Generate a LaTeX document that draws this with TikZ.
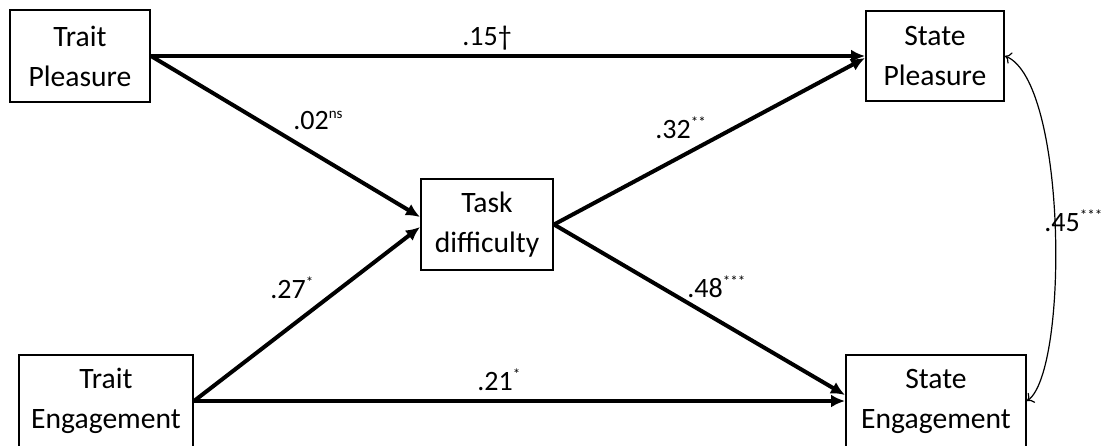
\documentclass[tikz,border=0pt]{standalone}
\usepackage{fontspec}
\setmainfont{Carlito}
\usetikzlibrary{arrows.meta,positioning}

\newcommand{\sigmark}[1]{\raisebox{0.8ex}{\fontsize{7.5}{7.5}\selectfont #1}}

\begin{document}
\begin{tikzpicture}[
        x=0.5pt, y=-0.5pt,
        every node/.style={font=\fontsize{14.8}{20}\selectfont},
        box/.style={draw, line width=1pt, rectangle, align=center, minimum width=70pt, minimum height=46pt, inner sep=2pt},
        arrow/.style={-{Latex[length=7pt,width=6.5pt]}, line width=2pt},
        corr/.style={{To[length=3pt,width=6pt]}-{To[length=3pt,width=6pt]}, line width=0.6pt},
        coef/.style={inner sep=0pt, anchor=base west, font=\fontsize{14}{16}\selectfont}
    ]
        \useasboundingbox (0,0) rectangle (1102,445);

        % Trait and state boxes
        \node[box] (tp) at (80,56) {Trait\\Pleasure};
        \node[box, minimum width=69pt, minimum height=45pt] (sp) at (935,56) {State\\Pleasure};
        \node[box, minimum width=66pt, minimum height=45.5pt] (td) at (487,224.5) {Task\\difficulty};
        \node[box, minimum width=87pt] (te) at (106,401) {Trait\\Engagement};
        \node[box, minimum width=90pt] (se) at (936,401) {State\\Engagement};

        % Paths
        \draw[arrow] (tp.east) -- (sp.west);
        \draw[arrow] (tp.east) -- ([yshift=3.75pt]td.west);
        \draw[arrow] (te.east) -- ([yshift=-1.25pt]td.west);
        \draw[arrow] (td.east) -- ([yshift=-1pt]sp.west);
        \draw[arrow] (td.east) -- ([yshift=3pt]se.west);
        \draw[arrow] (te.east) -- (se.west);

        % Residual correlation
        \draw[corr] (sp.east) .. controls +(62,25) and +(42,-30) .. (se.east);

        % Coefficients
        \node[coef] (c15) at (462,45) {.15†};
        \node[coef] (c02) at (293,129) {.02\sigmark{ns}};
        \node[coef] (c27) at (270,298) {.27\sigmark{*}};
        \node[coef] (c32) at (655,138) {.32\sigmark{**}};
        \node[coef] (c48) at (687,297) {.48\sigmark{***}};
        \node[coef] (c21) at (477,390) {.21\sigmark{*}};
        \node[coef] (c45) at (1044,231) {.45\sigmark{***}};
    \end{tikzpicture}
\end{document}
